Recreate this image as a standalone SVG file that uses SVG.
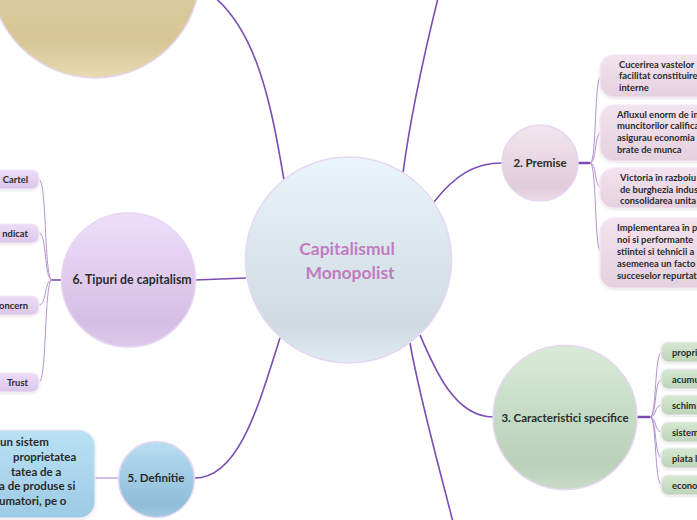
<svg xmlns="http://www.w3.org/2000/svg" width="697" height="520" viewBox="0 0 697 520">
<defs>
<linearGradient id="gC" x1="0" y1="0" x2="0" y2="1"><stop offset="0" stop-color="#eaf5fb"/><stop offset="0.82" stop-color="#cfdbe1"/><stop offset="1" stop-color="#e0ecf3"/></linearGradient>
<linearGradient id="gT" x1="0" y1="0" x2="0" y2="1"><stop offset="0" stop-color="#e6d9b1"/><stop offset="0.82" stop-color="#d7c595"/><stop offset="1" stop-color="#e8dab3"/></linearGradient>
<linearGradient id="gP" x1="0" y1="0" x2="0" y2="1"><stop offset="0" stop-color="#f3e6ef"/><stop offset="0.82" stop-color="#e0ccd8"/><stop offset="1" stop-color="#ebdbe5"/></linearGradient>
<linearGradient id="gPb" x1="0" y1="0" x2="0" y2="1"><stop offset="0" stop-color="#f3e3ef"/><stop offset="1" stop-color="#e5d0de"/></linearGradient>
<linearGradient id="gG" x1="0" y1="0" x2="0" y2="1"><stop offset="0" stop-color="#d8ebd7"/><stop offset="0.82" stop-color="#b9d0b9"/><stop offset="1" stop-color="#c9dcc8"/></linearGradient>
<linearGradient id="gGb" x1="0" y1="0" x2="0" y2="1"><stop offset="0" stop-color="#d6e9d2"/><stop offset="1" stop-color="#bdd4b9"/></linearGradient>
<linearGradient id="gL" x1="0" y1="0" x2="0" y2="1"><stop offset="0" stop-color="#efdefb"/><stop offset="0.82" stop-color="#d5bee5"/><stop offset="1" stop-color="#ddc9eb"/></linearGradient>
<linearGradient id="gLb" x1="0" y1="0" x2="0" y2="1"><stop offset="0" stop-color="#eddcf9"/><stop offset="1" stop-color="#dac6ea"/></linearGradient>
<linearGradient id="gB" x1="0" y1="0" x2="0" y2="1"><stop offset="0" stop-color="#b8def2"/><stop offset="0.82" stop-color="#8fbdd7"/><stop offset="1" stop-color="#a2cae1"/></linearGradient>
<linearGradient id="gBb" x1="0" y1="0" x2="0" y2="1"><stop offset="0" stop-color="#bae1f5"/><stop offset="1" stop-color="#9ccbe4"/></linearGradient>
<filter id="sh" x="-10%" y="-10%" width="120%" height="130%"><feDropShadow dx="0" dy="1" stdDeviation="0.8" flood-color="#000" flood-opacity="0.12"/></filter>
</defs>
<style>
.circ{stroke:#e6d6f2;stroke-width:1.5}
.box{stroke:#f4eaf6;stroke-width:1.2;filter:url(#sh)}
.main{stroke:#7b4db3;stroke-width:1.6;fill:none}
.sub{stroke:#b393d4;stroke-width:1;fill:none}
.thick{stroke:#7b4db3;stroke-width:2.5;fill:none}
text{font-family:Lato,"Noto Sans",sans-serif;font-weight:bold;fill:#2b2b2b}
.t9{font-size:9.4px}
.t11{font-size:11.5px}
.ttl{font-size:17.5px;fill:#c27bc0;text-anchor:middle}
.mid{text-anchor:middle}
.end{text-anchor:end}
</style>
<g id="connectors">
<path class="main" d="M284 180 C272 110 258 25 205 -10"/>
<path class="main" d="M403 173 C410 120 425 50 440 -10"/>
<path class="main" d="M434 202 C455 175 475 163 502 163"/>
<path class="main" d="M420 335 C435 370 455 417 493 417"/>
<path class="main" d="M410 343 C420 400 440 470 455 530"/>
<path class="main" d="M280 338 C260 400 240 478 195 478"/>
<path class="main" d="M246 278 L195 280"/>
<path class="thick" d="M578 163 L590 163"/>
<path class="sub" d="M590 163 C597 163 594 76 601 76"/>
<path class="sub" d="M590 163 C597 163 594 133 601 133"/>
<path class="sub" d="M590 163 C597 163 594 187 601 187"/>
<path class="sub" d="M590 163 C597 163 594 252 601 252"/>
<path class="thick" d="M637 417 L650 417"/>
<path class="sub" d="M650 417 C657 417 654 352 662 352"/>
<path class="sub" d="M650 417 C657 417 654 379 662 379"/>
<path class="sub" d="M650 417 C657 417 654 405 662 405"/>
<path class="sub" d="M650 417 C657 417 654 432 662 432"/>
<path class="sub" d="M650 417 C657 417 654 458 662 458"/>
<path class="sub" d="M650 417 C657 417 654 485 662 485"/>
<path class="thick" d="M62 280 L52 280" style="stroke-width:1.6"/>
<path class="sub" d="M52 280 C44 280 47 180 39 180"/>
<path class="sub" d="M52 280 C44 280 47 233 39 233"/>
<path class="sub" d="M52 280 C44 280 47 305 39 305"/>
<path class="sub" d="M52 280 C44 280 47 382 39 382"/>
<path class="main" d="M118 478 L95 478" style="stroke:#b393d4;stroke-width:1.2"/>
</g>
<g id="node-top-left"><circle class="circ" cx="95" cy="-27" r="105" fill="url(#gT)"/></g>
<g id="node-center">
<circle class="circ" cx="348.5" cy="260" r="103" fill="url(#gC)"/>
<text class="ttl" x="347" y="255">Capitalismul</text>
<text class="ttl" x="350" y="279">Monopolist</text>
</g>
<g id="node-premise">
<circle class="circ" cx="540" cy="163" r="38" fill="url(#gP)"/>
<text class="t11 mid" x="540" y="167">2. Premise</text>
</g>
<g id="premise-1"><rect class="box" x="600" y="55" width="130" height="42" rx="14" fill="url(#gPb)"/>
<text class="t9" x="619" y="68">Cucerirea vastelor</text><text class="t9" x="619" y="79">facilitat constituire</text><text class="t9" x="619" y="91">interne</text></g>
<g id="premise-2"><rect class="box" x="600" y="105" width="130" height="56" rx="14" fill="url(#gPb)"/>
<text class="t9" x="617" y="118">Afluxul enorm de im</text><text class="t9" x="617" y="129">muncitorilor califica</text><text class="t9" x="617" y="141">asigurau economia</text><text class="t9" x="617" y="153">brate de munca</text></g>
<g id="premise-3"><rect class="box" x="600" y="168" width="130" height="40" rx="14" fill="url(#gPb)"/>
<text class="t9" x="620" y="181">Victoria în razboiu</text><text class="t9" x="620" y="193">de burghezia indus</text><text class="t9" x="620" y="204">consolidarea unita</text></g>
<g id="premise-4"><rect class="box" x="600" y="218" width="130" height="70" rx="14" fill="url(#gPb)"/>
<text class="t9" x="617" y="231">Implementarea în p</text><text class="t9" x="617" y="243">noi si performante</text><text class="t9" x="617" y="255">stiintei si tehnicii a</text><text class="t9" x="617" y="267">asemenea un facto</text><text class="t9" x="617" y="279">succeselor repurtat</text></g>
<g id="node-caracteristici">
<circle class="circ" cx="565" cy="417.5" r="72" fill="url(#gG)"/>
<text class="t11 mid" x="565" y="421.5">3. Caracteristici specifice</text>
</g>
<g id="car-1"><rect class="box" x="661" y="342" width="60" height="20" rx="7" fill="url(#gGb)"/><text class="t9" x="672" y="355.5">propri</text></g>
<g id="car-2"><rect class="box" x="661" y="369" width="60" height="20" rx="7" fill="url(#gGb)"/><text class="t9" x="672" y="382.5">acumu</text></g>
<g id="car-3"><rect class="box" x="661" y="395" width="60" height="20" rx="7" fill="url(#gGb)"/><text class="t9" x="672" y="408.5">schim</text></g>
<g id="car-4"><rect class="box" x="661" y="422" width="60" height="20" rx="7" fill="url(#gGb)"/><text class="t9" x="672" y="435.5">sistem</text></g>
<g id="car-5"><rect class="box" x="661" y="448" width="60" height="20" rx="7" fill="url(#gGb)"/><text class="t9" x="672" y="461.5">piata l</text></g>
<g id="car-6"><rect class="box" x="661" y="475" width="60" height="20" rx="7" fill="url(#gGb)"/><text class="t9" x="672" y="488.5">econo</text></g>
<g id="node-tipuri">
<circle class="circ" cx="128.5" cy="280" r="67" fill="url(#gL)"/>
<text class="mid" style="font-size:12.3px" x="132" y="284">6. Tipuri de capitalism</text>
</g>
<g id="tip-1"><rect class="box" x="-20" y="170" width="59" height="19" rx="7" fill="url(#gLb)"/><text class="t9 end" x="28" y="183">Cartel</text></g>
<g id="tip-2"><rect class="box" x="-20" y="224" width="59" height="19" rx="7" fill="url(#gLb)"/><text class="t9 end" x="28" y="236.5">ndicat</text></g>
<g id="tip-3"><rect class="box" x="-20" y="296" width="59" height="19" rx="7" fill="url(#gLb)"/><text class="t9 end" x="28" y="309">oncern</text></g>
<g id="tip-4"><rect class="box" x="-20" y="373" width="59" height="19" rx="7" fill="url(#gLb)"/><text class="t9 end" x="28" y="386">Trust</text></g>
<g id="node-definitie">
<circle class="circ" cx="156.5" cy="479.5" r="38" fill="url(#gB)"/>
<text class="t11 mid" x="156" y="482">5. Definitie</text>
</g>
<g id="definitie-text"><rect class="box" x="-30" y="430" width="125" height="88" rx="16" fill="url(#gBb)"/>
<text class="t11" x="0" y="446">un sistem</text><text class="t11" x="13" y="461">proprietatea</text><text class="t11" x="11" y="476">tatea de a</text><text class="t11" x="-1" y="490">a de produse si</text><text class="t11" x="-1" y="505">umatori, pe o</text></g>
</svg>
